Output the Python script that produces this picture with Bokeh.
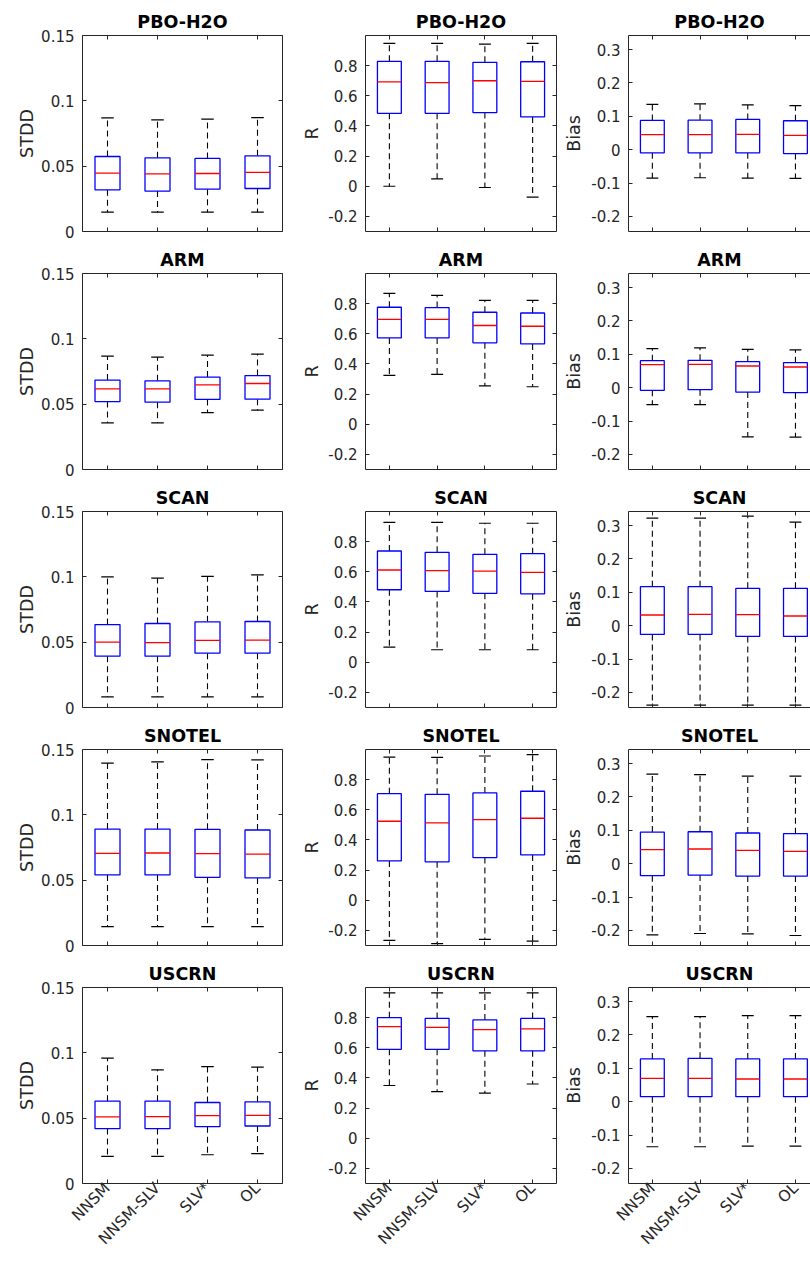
import math
from bokeh.plotting import figure
from bokeh.models import ColumnDataSource, FixedTicker, LinearAxis, Range1d, Title, Grid
from bokeh.layouts import column, row
from bokeh.embed import file_html
from bokeh.resources import INLINE

methods = ["NNSM", "NNSM-SLV", "SLV*", "OL"]
networks = ["PBO-H2O", "ARM", "SCAN", "SNOTEL", "USCRN"]
metrics = ["STDD", "R", "Bias"]

# rows: networks (PBO-H2O, ARM, SCAN, SNOTEL, USCRN); columns: methods
STDD_LO = [[0.0148, 0.0148, 0.0148, 0.0148],
           [0.0357, 0.0357, 0.0436, 0.0454],
           [0.0082, 0.0082, 0.0082, 0.0082],
           [0.0145, 0.0145, 0.0145, 0.0145],
           [0.0207, 0.0207, 0.0220, 0.0228]]
STDD_Q1 = [[0.0319, 0.0309, 0.0324, 0.0329],
           [0.0520, 0.0515, 0.0536, 0.0538],
           [0.0393, 0.0393, 0.0416, 0.0416],
           [0.0540, 0.0540, 0.0522, 0.0517],
           [0.0420, 0.0420, 0.0435, 0.0440]]
STDD_MED = [[0.0446, 0.0441, 0.0444, 0.0452],
            [0.0617, 0.0617, 0.0648, 0.0658],
            [0.0500, 0.0497, 0.0513, 0.0515],
            [0.0705, 0.0708, 0.0703, 0.0700],
            [0.0510, 0.0512, 0.0520, 0.0522]]
STDD_Q3 = [[0.0574, 0.0564, 0.0559, 0.0579],
           [0.0684, 0.0679, 0.0707, 0.0719],
           [0.0635, 0.0643, 0.0656, 0.0658],
           [0.0891, 0.0891, 0.0889, 0.0884],
           [0.0630, 0.0630, 0.0620, 0.0625]]
STDD_HI = [[0.0870, 0.0855, 0.0860, 0.0872],
           [0.0867, 0.0860, 0.0875, 0.0883],
           [0.1000, 0.0990, 0.1003, 0.1015],
           [0.1395, 0.1406, 0.1423, 0.1420],
           [0.0960, 0.0870, 0.0895, 0.0890]]

R_LO = [[0.000, 0.049, -0.008, -0.072],
        [0.324, 0.331, 0.254, 0.249],
        [0.101, 0.083, 0.083, 0.083],
        [-0.266, -0.288, -0.260, -0.271],
        [0.350, 0.310, 0.300, 0.360]]
R_Q1 = [[0.484, 0.484, 0.489, 0.460],
        [0.573, 0.573, 0.540, 0.533],
        [0.481, 0.470, 0.457, 0.454],
        [0.261, 0.255, 0.283, 0.301],
        [0.590, 0.590, 0.580, 0.580]]
R_MED = [[0.692, 0.687, 0.700, 0.696],
         [0.696, 0.696, 0.655, 0.650],
         [0.612, 0.608, 0.605, 0.596],
         [0.524, 0.513, 0.535, 0.544],
         [0.740, 0.735, 0.720, 0.725]]
R_Q3 = [[0.829, 0.829, 0.822, 0.826],
        [0.776, 0.774, 0.743, 0.738],
        [0.738, 0.729, 0.716, 0.720],
        [0.707, 0.703, 0.712, 0.723],
        [0.800, 0.795, 0.785, 0.795]]
R_HI = [[0.948, 0.948, 0.943, 0.948],
        [0.868, 0.855, 0.822, 0.822],
        [0.928, 0.928, 0.922, 0.922],
        [0.950, 0.948, 0.957, 0.966],
        [0.965, 0.965, 0.965, 0.965]]

BIAS_LO = [[-0.085, -0.084, -0.085, -0.086],
           [-0.051, -0.051, -0.147, -0.148],
           [-0.238, -0.238, -0.238, -0.238],
           [-0.213, -0.209, -0.210, -0.215],
           [-0.135, -0.135, -0.133, -0.133]]
BIAS_Q1 = [[-0.0095, -0.0095, -0.0095, -0.0115],
           [-0.008, -0.006, -0.013, -0.015],
           [-0.026, -0.026, -0.032, -0.032],
           [-0.036, -0.034, -0.037, -0.037],
           [0.015, 0.015, 0.015, 0.015]]
BIAS_MED = [[0.045, 0.045, 0.046, 0.043],
            [0.069, 0.070, 0.065, 0.062],
            [0.032, 0.034, 0.033, 0.029],
            [0.042, 0.044, 0.040, 0.037],
            [0.070, 0.070, 0.068, 0.068]]
BIAS_Q3 = [[0.0877, 0.0885, 0.0907, 0.0867],
           [0.081, 0.082, 0.078, 0.075],
           [0.117, 0.117, 0.112, 0.112],
           [0.0946, 0.0956, 0.092, 0.090],
           [0.128, 0.130, 0.128, 0.128]]
BIAS_HI = [[0.136, 0.137, 0.134, 0.132],
           [0.117, 0.119, 0.115, 0.113],
           [0.322, 0.322, 0.328, 0.310],
           [0.268, 0.267, 0.262, 0.262],
           [0.255, 0.255, 0.258, 0.258]]

STATS = {
    "STDD": (STDD_LO, STDD_Q1, STDD_MED, STDD_Q3, STDD_HI),
    "R": (R_LO, R_Q1, R_MED, R_Q3, R_HI),
    "Bias": (BIAS_LO, BIAS_Q1, BIAS_MED, BIAS_Q3, BIAS_HI),
}

Y_RANGES = {"STDD": (0.0, 0.15), "R": (-0.3, 1.0), "Bias": (-0.245, 0.342)}
Y_TICKS = {
    "STDD": ([0.0, 0.05, 0.1, 0.15], ["0", "0.05", "0.1", "0.15"]),
    "R": ([-0.2, 0.0, 0.2, 0.4, 0.6, 0.8], ["-0.2", "0", "0.2", "0.4", "0.6", "0.8"]),
    "Bias": ([-0.2, -0.1, 0.0, 0.1, 0.2, 0.3], ["-0.2", "-0.1", "0", "0.1", "0.2", "0.3"]),
}

FONT = "DejaVu Sans"
AXC = "#262626"
BOX_W = 0.5
CAP_W = 0.25

FRAME_W = [200, 191, 182]
BORDER_L = [82, 75, 68]
BORDER_R = [8, 4, 0]
LABEL_STANDOFF = [1, 3, 4]
X_END = [4.5, 4.5, 0.5 + 182 / 47.7]
FRAME_H = 196
BORDER_T = [35, 30, 30, 30, 30]
BORDER_B = [12, 12, 12, 12, 78]


def make_axis(ticks, labels, show, font_size="15px"):
    ax = LinearAxis(ticker=FixedTicker(ticks=ticks, minor_ticks=[]),
                    major_tick_in=4, major_tick_out=0,
                    minor_tick_in=0, minor_tick_out=0,
                    axis_line_color=AXC, axis_line_width=1,
                    major_tick_line_color=AXC, major_tick_line_width=1)
    if show:
        ax.major_label_overrides = {t: l for t, l in zip(ticks, labels)}
        ax.major_label_text_font = FONT
        ax.major_label_text_font_size = font_size
        ax.major_label_text_color = AXC
        ax.major_label_standoff = 8
    else:
        ax.major_label_text_font_size = "0px"
        ax.major_label_text_color = None
        ax.major_label_text_alpha = 0
        ax.major_label_standoff = 0
    return ax


def make_panel(r, c):
    net = networks[r]
    metric = metrics[c]
    lo, q1, med, q3, hi = (s[r] for s in STATS[metric])
    xs = list(range(1, len(methods) + 1))
    src = ColumnDataSource(dict(
        x=xs, lo=lo, q1=q1, med=med, q3=q3, hi=hi,
        xl=[x - BOX_W / 2 for x in xs], xr=[x + BOX_W / 2 for x in xs],
        cl=[x - CAP_W / 2 for x in xs], cr=[x + CAP_W / 2 for x in xs],
    ))
    p = figure(frame_width=FRAME_W[c], frame_height=FRAME_H,
               x_range=Range1d(0.5, X_END[c]), y_range=Range1d(*Y_RANGES[metric]),
               x_axis_location=None, y_axis_location=None,
               output_backend="svg", toolbar_location=None, title=None,
               min_border_left=BORDER_L[c], min_border_right=BORDER_R[c],
               min_border_top=BORDER_T[r], min_border_bottom=BORDER_B[r])
    for rr in list(p.center):
        if isinstance(rr, Grid):
            rr.visible = False
    p.outline_line_color = None
    p.background_fill_color = "white"
    p.border_fill_color = "white"

    yt, yl = Y_TICKS[metric]
    left = make_axis(yt, yl, True)
    left.axis_label = metric
    left.axis_label_text_font = FONT
    left.axis_label_text_font_size = "17.5px"
    left.axis_label_text_font_style = "normal"
    left.axis_label_text_color = AXC
    left.axis_label_standoff = LABEL_STANDOFF[c]
    p.add_layout(left, "left")
    if c < 2:
        p.add_layout(make_axis(yt, yl, False), "right")

    last = r == len(networks) - 1
    bottom = make_axis(xs, methods, last, font_size="15.5px")
    if last:
        bottom.major_label_orientation = math.pi / 4
        bottom.major_label_standoff = 2
    p.add_layout(bottom, "below")
    p.add_layout(make_axis(xs, methods, False), "above")

    p.add_layout(Title(text=net, align="center", text_font=FONT, text_font_size="17.5px",
                       text_font_style="bold", text_color="black", standoff=7), "above")

    dash = "6 4"
    p.segment(x0="x", y0="q3", x1="x", y1="hi", source=src, line_color="black",
              line_width=1.1, line_dash=dash)
    p.segment(x0="x", y0="q1", x1="x", y1="lo", source=src, line_color="black",
              line_width=1.1, line_dash=dash)
    p.segment(x0="cl", y0="hi", x1="cr", y1="hi", source=src, line_color="black", line_width=1.2)
    p.segment(x0="cl", y0="lo", x1="cr", y1="lo", source=src, line_color="black", line_width=1.2)
    p.vbar(x="x", width=BOX_W, bottom="q1", top="q3", source=src, fill_color="white",
           line_color="#0000FF", line_width=1.3)
    p.segment(x0="xl", y0="med", x1="xr", y1="med", source=src, line_color="#FF0000", line_width=1.3)
    return p


rows = []
for r in range(len(networks)):
    rows.append(row(*[make_panel(r, c) for c in range(len(metrics))], spacing=0))
layout = column(*rows, spacing=0)

open("out.html", "w").write(file_html(layout, INLINE))
